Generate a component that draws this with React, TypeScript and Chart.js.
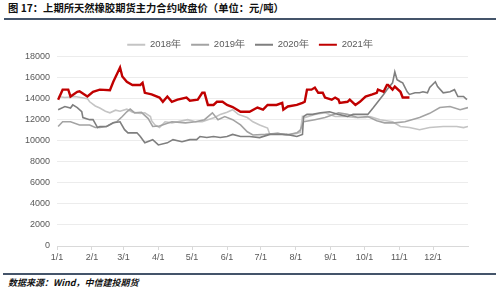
import React, { useEffect, useRef } from 'react';
import { Chart, registerables } from 'chart.js';
Chart.register(...registerables);

const seriesNames = ['2018年', '2019年', '2020年', '2021年'];
const seriesColors = ['#c4c4c4', '#a3a3a3', '#7f7f7f', '#c00000'];
const seriesWidths = [1.6, 1.6, 1.6, 2.4];

const monthTicks = [0, 31, 59, 90, 120, 151, 181, 212, 243, 273, 304, 334];
const monthLabels = ['1/1', '2/1', '3/1', '4/1', '5/1', '6/1', '7/1', '8/1', '9/1', '10/1', '11/1', '12/1'];

const days2018 = [1, 7, 16, 27, 29, 34, 38, 43, 47, 52, 56, 62, 67, 74, 78, 83, 84, 87, 91, 96, 102, 107, 116, 123, 129, 134, 140, 145, 151, 156, 161, 169, 174, 180, 187, 189, 196, 204, 213, 216, 218, 220, 229, 238, 247, 256, 265, 274, 278, 287, 298, 305, 313, 322, 331, 343, 355, 361, 365];
const vals2018 = [14200, 14100, 14200, 14000, 13700, 13300, 13100, 12800, 12650, 12900, 12800, 13000, 12700, 12600, 12650, 12300, 11900, 11500, 11250, 11800, 11700, 11800, 12000, 11800, 11800, 12000, 12200, 12500, 12700, 12950, 12500, 12200, 11800, 11500, 11200, 10600, 10700, 10550, 10700, 10800, 12300, 12200, 12500, 12650, 12300, 12300, 12200, 12200, 12300, 12000, 11800, 11350, 11250, 11050, 11250, 11350, 11350, 11250, 11350];

const days2019 = [1, 5, 12, 20, 29, 34, 38, 44, 50, 53, 58, 62, 65, 69, 75, 81, 85, 91, 102, 114, 123, 131, 138, 143, 149, 156, 163, 169, 174, 185, 196, 204, 213, 216, 219, 229, 238, 250, 258, 267, 276, 284, 291, 300, 309, 322, 331, 340, 349, 358, 365];
const vals2019 = [11350, 11800, 11800, 11500, 11500, 11250, 11250, 11350, 11700, 11800, 12300, 12750, 13000, 12650, 12700, 12100, 11350, 11400, 11800, 11700, 11800, 12000, 12650, 12000, 12300, 12000, 11500, 10850, 10550, 10600, 10700, 10550, 10750, 11000, 11800, 12000, 12200, 12650, 12500, 12200, 12300, 11900, 11700, 11700, 11800, 12200, 12600, 13150, 13250, 12950, 13150];

const days2020 = [1, 7, 12, 14, 18, 22, 23, 29, 32, 36, 38, 44, 50, 56, 60, 63, 71, 74, 78, 85, 90, 98, 103, 111, 118, 124, 127, 133, 139, 145, 151, 156, 163, 169, 171, 180, 189, 195, 204, 213, 218, 219, 222, 227, 234, 242, 250, 258, 263, 272, 276, 281, 285, 290, 293, 298, 300, 302, 305, 307, 311, 313, 318, 322, 325, 329, 331, 336, 338, 343, 349, 353, 356, 361, 364];
const vals2020 = [12950, 13250, 13100, 13400, 13150, 12750, 12200, 12000, 12000, 11250, 11350, 11350, 11700, 11800, 11050, 10750, 10750, 10400, 9800, 10100, 9600, 9800, 10100, 9900, 10100, 10100, 10400, 10300, 10400, 10300, 10400, 10600, 10400, 10400, 10400, 10300, 10600, 10600, 10600, 10400, 10600, 12300, 12500, 12500, 12650, 12750, 12500, 12300, 12500, 12500, 12500, 13150, 13700, 14400, 14850, 15500, 16550, 15800, 15600, 15500, 14650, 14400, 14550, 14550, 14650, 14550, 15050, 15600, 15150, 14550, 14650, 14850, 14200, 14200, 13900];

const days2021 = [1, 5, 10, 12, 18, 20, 27, 32, 38, 47, 50, 56, 58, 62, 67, 74, 76, 78, 84, 91, 94, 98, 102, 107, 115, 118, 125, 129, 131, 134, 139, 142, 147, 151, 156, 163, 171, 178, 183, 187, 195, 200, 201, 205, 213, 218, 220, 222, 226, 229, 232, 236, 238, 244, 247, 250, 251, 258, 260, 265, 269, 274, 280, 284, 285, 290, 293, 294, 298, 300, 305, 307, 313];
const vals2021 = [13900, 14850, 14850, 14200, 14650, 14700, 14200, 14650, 14850, 14800, 15600, 16950, 16100, 15600, 15300, 15300, 15500, 14550, 14400, 14100, 13700, 14200, 13700, 13900, 14100, 13800, 13900, 14550, 14550, 13400, 13400, 13700, 13700, 13400, 13200, 12750, 12750, 13150, 12950, 13400, 13400, 13600, 12950, 13250, 13400, 13600, 13700, 14850, 14850, 15050, 14550, 14550, 14100, 13900, 14100, 13900, 13600, 13700, 13900, 13400, 13700, 14200, 14400, 14550, 14850, 14650, 15300, 15300, 14850, 15150, 14650, 14100, 14100];

const allDays = [days2018, days2019, days2020, days2021];
const allVals = [vals2018, vals2019, vals2020, vals2021];

const FONT = '"Liberation Sans", Arial, sans-serif';

export default function App() {
  const ref = useRef<HTMLCanvasElement | null>(null);
  useEffect(() => {
    if (!ref.current) return;
    const datasets = seriesNames.map((name, k) => ({
      label: name,
      data: allDays[k].map((d, i) => ({ x: d, y: allVals[k][i] })),
      borderColor: seriesColors[k],
      backgroundColor: seriesColors[k],
      borderWidth: seriesWidths[k],
      pointRadius: 0,
      tension: 0,
      order: k === 3 ? 0 : 4 - k,
    }));
    const chart = new Chart(ref.current, {
      type: 'line',
      data: { datasets },
      options: {
        animation: false,
        responsive: false,
        maintainAspectRatio: false,
        layout: { padding: { left: 0, right: 0, top: 8, bottom: 0 } },
        plugins: {
          tooltip: { enabled: false },
          legend: {
            position: 'top',
            maxHeight: 26.5,
            labels: {
              boxWidth: 18,
              boxHeight: 2,
              padding: 10,
              color: '#595959',
              font: { size: 9.5, family: FONT },
              generateLabels: (chart: any) =>
                Chart.defaults.plugins.legend.labels
                  .generateLabels(chart)
                  .sort((a: any, b: any) => a.datasetIndex - b.datasetIndex)
                  .map((l: any) => ({ ...l, lineWidth: 0, fillStyle: l.strokeStyle })),
            },
          },
        },
        scales: {
          x: {
            type: 'linear',
            min: 0,
            max: 365,
            afterBuildTicks: (scale: any) => {
              scale.ticks = monthTicks.map((v) => ({ value: v }));
            },
            afterFit: (scale: any) => {
              scale.height = 26;
            },
            ticks: {
              autoSkip: false,
              maxRotation: 0,
              padding: 2,
              color: '#595959',
              font: { size: 9, family: FONT },
              callback: (v: any) => {
                const i = monthTicks.indexOf(Number(v));
                return i >= 0 ? monthLabels[i] : '';
              },
            },
            grid: { drawOnChartArea: false, drawTicks: true, tickLength: 4, color: '#d9d9d9' },
            border: { display: true, color: '#d9d9d9' },
          },
          y: {
            min: 0,
            max: 18000,
            afterFit: (scale: any) => {
              scale.width = 57;
            },
            ticks: {
              stepSize: 2000,
              padding: 7,
              color: '#595959',
              font: { size: 9, family: FONT },
              callback: (v: any) => String(v),
            },
            grid: { drawTicks: false, color: '#ececec', lineWidth: 1 },
            border: { display: false },
          },
          yRight: {
            position: 'right',
            display: true,
            min: 0,
            max: 18000,
            afterFit: (scale: any) => {
              scale.width = 32;
            },
            ticks: { display: false },
            grid: { display: false, drawTicks: false },
            border: { display: false },
          },
        },
      },
    });
    return () => chart.destroy();
  }, []);

  return (
    <div style={{ position: 'fixed', left: 0, top: 0, width: 500, height: 292, background: '#fff', overflow: 'hidden' }}>
      <div
        style={{
          position: 'absolute',
          left: 8,
          top: 1,
          fontFamily: '"Noto Sans CJK SC", sans-serif',
          fontWeight: 700,
          fontSize: 10.3,
          lineHeight: '14px',
          color: '#111',
          whiteSpace: 'nowrap',
        }}
      >
        图 17：上期所天然橡胶期货主力合约收盘价（单位：元/吨）
      </div>
      <div style={{ position: 'absolute', left: 4, top: 18, width: 492, height: 1.5, background: '#44546a' }} />
      <canvas ref={ref} width={500} height={250} style={{ position: 'absolute', left: 0, top: 22, width: 500, height: 250 }} />
      <div style={{ position: 'absolute', left: 3, top: 273, width: 493, height: 1.5, background: '#44546a' }} />
      <div
        style={{
          position: 'absolute',
          left: 8,
          top: 276,
          fontFamily: '"Noto Sans CJK SC", sans-serif',
          fontWeight: 700,
          fontStyle: 'italic',
          fontSize: 9,
          lineHeight: '13px',
          color: '#111',
          whiteSpace: 'nowrap',
        }}
      >
        数据来源：Wind，中信建投期货
      </div>
    </div>
  );
}
